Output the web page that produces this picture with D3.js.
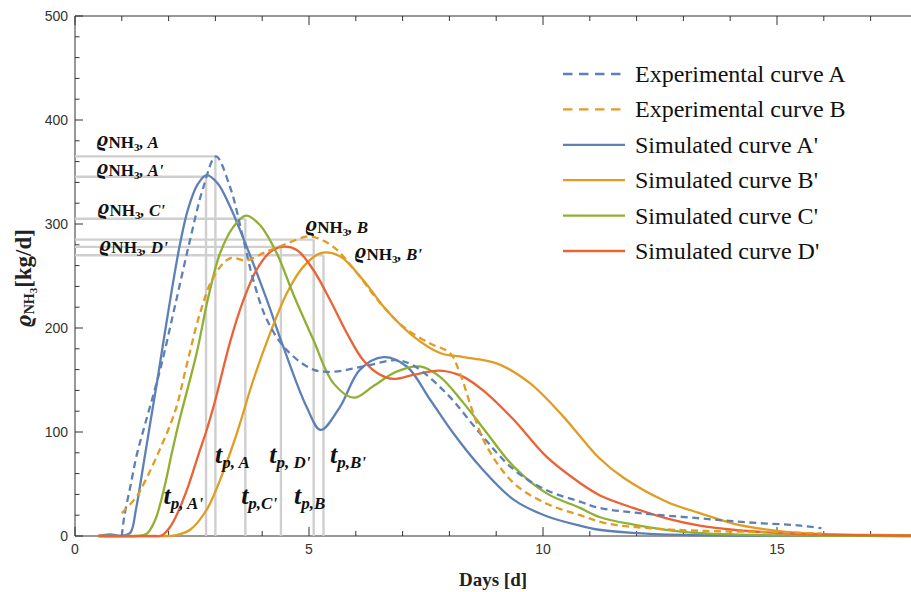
<!DOCTYPE html>
<html><head><meta charset="utf-8">
<script src="https://cdn.jsdelivr.net/npm/d3@7"></script>
<style>body{margin:0;background:#fff}</style>
</head><body>
<svg id="chart" width="911" height="592"></svg>
<script>
// ---------- data (days, kg/d) ----------
const expA_day = [1.0, 1.05, 1.18, 1.32, 1.5, 1.82, 2.14, 2.46, 2.74, 3.01, 3.31, 3.6, 3.81, 4.1, 4.52, 5.09, 5.52, 6.16, 6.87, 7.23, 7.94, 8.65, 9.37, 10.08, 10.79, 11.2, 12.07, 13.35, 14.4, 15.5, 15.95];
const expA_val = [0, 18, 47, 78, 108, 160, 222, 285, 335, 365, 336, 285, 246, 208, 179, 160, 158, 163, 169, 164, 137, 99, 64, 44, 33, 27, 22, 17, 13, 10, 7.5];

const expB_day = [1.0, 1.32, 1.5, 1.8, 2.14, 2.39, 2.67, 2.96, 3.31, 3.67, 4.02, 4.52, 5.02, 5.52, 6.02, 6.52, 7.02, 7.59, 8.01, 8.23, 8.51, 8.8, 9.37, 10.08, 10.79, 11.37, 12.3, 13.35, 14.5, 15.96];
const expB_val = [22, 38, 53, 82, 120, 165, 214, 249, 267, 265, 272, 281, 288, 278, 253, 224, 201, 185, 176, 156, 118, 86, 51, 31, 20, 12, 7.4, 5, 4, 2.5];

const simA_day = [0.5, 0.75, 1.0, 1.18, 1.3, 1.46, 1.62, 1.76, 1.99, 2.24, 2.42, 2.62, 2.81, 3.05, 3.31, 3.67, 4.1, 4.45, 4.95, 5.25, 5.66, 6.09, 6.59, 7.09, 7.59, 8.08, 8.65, 9.37, 10.08, 10.79, 11.2, 11.9, 13, 14, 16, 18];
const simA_val = [0, 1.5, 0.3, 3, 25, 68, 112, 150, 215, 280, 315, 338, 347, 339, 317, 278, 227, 182, 124, 102, 124, 160, 172, 163, 131, 99, 67, 35, 19, 10, 6, 3, 1, 0.5, 0.1, 0];

const simB_day = [0.5, 1.5, 2.0, 2.14, 2.46, 2.81, 3.1, 3.46, 3.81, 4.17, 4.52, 4.88, 5.25, 5.66, 6.16, 6.66, 7.23, 7.8, 8.3, 9.01, 9.72, 10.43, 10.79, 11.2, 11.72, 12.64, 13.35, 14.06, 15.0, 15.85, 17.6, 18];
const simB_val = [0, 0, 0, 0.5, 6, 25, 54, 99, 150, 195, 233, 259, 272, 269, 246, 217, 192, 176, 172, 166, 147, 115, 96, 75, 56, 33, 22, 12, 5, 2, 0.8, 0.5];

const simC_day = [0.5, 1.3, 1.53, 1.71, 1.9, 2.07, 2.23, 2.6, 2.85, 3.1, 3.38, 3.65, 3.95, 4.31, 4.66, 5.09, 5.52, 5.96, 6.37, 6.87, 7.37, 7.8, 8.3, 8.8, 9.37, 10.08, 10.79, 11.22, 11.93, 13.0, 14.06, 16, 18];
const simC_val = [0, 0, 2, 15, 45, 80, 111, 176, 230, 272, 297, 308, 299, 272, 233, 189, 147, 133, 144, 158, 163, 153, 128, 99, 67, 41, 27, 18, 11, 4, 1.5, 0.2, 0];

const simD_day = [0.5, 1.7, 1.85, 2.02, 2.17, 2.42, 2.65, 2.8, 3.0, 3.31, 3.6, 3.88, 4.17, 4.42, 4.74, 5.09, 5.45, 5.81, 6.16, 6.52, 6.8, 7.23, 7.8, 8.3, 8.8, 9.37, 10.08, 10.79, 11.22, 11.93, 12.64, 13.35, 14.06, 14.78, 15.85, 18];
const simD_val = [0, 0, 0.5, 8, 20, 48, 80, 100, 131, 186, 227, 256, 273, 278, 275, 256, 227, 195, 169, 155, 151, 155, 159, 153, 137, 112, 76, 51, 39, 27, 17, 10, 6, 3.5, 1.5, 0.3];

const seriesNames = ["Experimental curve A", "Experimental curve B", "Simulated curve A'", "Simulated curve B'", "Simulated curve C'", "Simulated curve D'"];

const xTickValues = [0, 5, 10, 15];
const yTickValues = [0, 100, 200, 300, 400, 500];

const peakKeys = ["A", "A'", "C'", "D'", "B", "B'"];
const peakDays = [3.0, 2.8, 3.64, 4.4, 5.1, 5.31];
const peakVals = [365, 345.5, 305, 278, 285, 270];
const tpSubs = [", A", ", A'", ",C'", ", D'", ",B", ",B'"];

// ---------- layout / style ----------
const W = 911, H = 592;
const svg = d3.select("#chart");
const x = d3.scaleLinear().domain([0, 18]).range([75, 75 + 18 * 46.8]);
const y = d3.scaleLinear().domain([0, 500]).range([536, 16]);
const colors = {blue: "#5E81B5", orange: "#E19C24", green: "#8FB032", red: "#EB6235"};
const serif = "'Liberation Serif', 'DejaVu Serif', serif";

const series = [
  {name: seriesNames[0], d: expA_day, v: expA_val, c: colors.blue, dash: true},
  {name: seriesNames[1], d: expB_day, v: expB_val, c: colors.orange, dash: true},
  {name: seriesNames[2], d: simA_day, v: simA_val, c: colors.blue, dash: false},
  {name: seriesNames[3], d: simB_day, v: simB_val, c: colors.orange, dash: false},
  {name: seriesNames[4], d: simC_day, v: simC_val, c: colors.green, dash: false},
  {name: seriesNames[5], d: simD_day, v: simD_val, c: colors.red, dash: false}
];

// ---------- axes ----------
const axisColor = "#333";
const ax = svg.append("g");
ax.append("line").attr("x1", 75).attr("x2", W).attr("y1", 536).attr("y2", 536).attr("stroke", axisColor);
ax.append("line").attr("x1", 75).attr("x2", W).attr("y1", 16).attr("y2", 16).attr("stroke", axisColor);
ax.append("line").attr("x1", 75).attr("x2", 75).attr("y1", 16).attr("y2", 536).attr("stroke", axisColor);

d3.range(0, 19, 1).forEach(t => {
  const major = t % 5 === 0;
  const len = major ? 9 : 5;
  const px = x(t);
  if (px > W) return;
  ax.append("line").attr("x1", px).attr("x2", px).attr("y1", 536).attr("y2", 536 - len).attr("stroke", axisColor);
  ax.append("line").attr("x1", px).attr("x2", px).attr("y1", 16).attr("y2", 16 + len).attr("stroke", axisColor);
});
d3.range(0, 501, 20).forEach(t => {
  const major = t % 100 === 0;
  const len = major ? 8 : 4.5;
  ax.append("line").attr("x1", 75).attr("x2", 75 + len).attr("y1", y(t)).attr("y2", y(t)).attr("stroke", axisColor);
});
ax.selectAll(".xl").data(xTickValues).enter().append("text")
  .attr("x", d => x(d)).attr("y", 554).attr("text-anchor", "middle")
  .attr("font-family", "'Liberation Sans', Arial, sans-serif").attr("font-size", 14).attr("fill", "#333")
  .text(d => d);
ax.selectAll(".yl").data(yTickValues).enter().append("text")
  .attr("x", 68).attr("y", d => y(d) + 5).attr("text-anchor", "end")
  .attr("font-family", "'Liberation Sans', Arial, sans-serif").attr("font-size", 14).attr("fill", "#333")
  .text(d => d);

// axis titles
svg.append("text").attr("x", 493).attr("y", 586).attr("text-anchor", "middle")
  .attr("font-family", serif).attr("font-weight", "bold").attr("font-size", 19).attr("fill", "#222")
  .text("Days [d]");
const yt = svg.append("text").attr("transform", "translate(31,278) rotate(-90)").attr("text-anchor", "middle")
  .attr("font-family", serif).attr("font-weight", "bold").attr("font-size", 23).attr("fill", "#222");
yt.append("tspan").attr("font-style", "italic").text("ϱ");
yt.append("tspan").attr("font-size", 14).attr("dy", 3).text("NH");
yt.append("tspan").attr("font-size", 11).attr("dy", 3).text("3");
yt.append("tspan").attr("dy", -6).text("[kg/d]");

// ---------- reference lines ----------
const ref = svg.append("g").attr("stroke", "#cfcfcf").attr("stroke-width", 2.4);
peakKeys.forEach((k, i) => {
  ref.append("line").attr("x1", 75).attr("x2", x(peakDays[i])).attr("y1", y(peakVals[i])).attr("y2", y(peakVals[i]));
  ref.append("line").attr("x1", x(peakDays[i])).attr("x2", x(peakDays[i])).attr("y1", y(0)).attr("y2", y(peakVals[i]));
});

// ---------- curves ----------
const line = d3.line().x(d => x(d[0])).y(d => y(Math.max(0, d[1]))).curve(d3.curveCatmullRom.alpha(0.5));
const order = [2, 3, 4, 5, 0, 1];
order.forEach(i => {
  const s = series[i];
  svg.append("path").datum(s.d.map((dd, j) => [dd, s.v[j]]))
    .attr("fill", "none").attr("stroke", s.c).attr("stroke-width", 2.3)
    .attr("stroke-linejoin", "round")
    .attr("stroke-dasharray", s.dash ? "7,4.5" : null)
    .attr("d", line);
});

// ---------- annotations ----------
const rhoPos = {"A": [0.46, 375], "A'": [0.46, 347.6], "C'": [0.48, 309.6], "D'": [0.52, 274], "B": [4.92, 293], "B'": [5.97, 267.3]};
peakKeys.forEach(k => {
  const p = rhoPos[k];
  const t = svg.append("text").attr("x", x(p[0])).attr("y", y(p[1]))
    .attr("font-family", serif).attr("font-weight", "bold").attr("font-size", 22).attr("fill", "#111");
  t.append("tspan").attr("font-style", "italic").text("ϱ");
  t.append("tspan").attr("font-size", 17).attr("dy", 2).text("NH");
  t.append("tspan").attr("font-size", 11).attr("dy", 3).text("3");
  t.append("tspan").attr("font-size", 17).attr("font-style", "italic").attr("dy", -3).text(", " + k);
});
const tpPos = {"A": [2.99, 70.5], "A'": [1.89, 30.5], "C'": [3.55, 30.5], "D'": [4.15, 70.5], "B": [4.68, 30.5], "B'": [5.45, 70.5]};
peakKeys.forEach((k, i) => {
  const p = tpPos[k];
  const t = svg.append("text").attr("x", x(p[0])).attr("y", y(p[1]))
    .attr("font-family", serif).attr("font-weight", "bold").attr("font-style", "italic").attr("font-size", 26).attr("fill", "#111");
  t.append("tspan").text("t");
  t.append("tspan").attr("font-size", 17).attr("dy", 5).text("p" + tpSubs[i]);
});

// ---------- legend ----------
const lg = svg.append("g");
series.forEach((s, i) => {
  const cy = 74 + i * 35.4;
  lg.append("line").attr("x1", 563).attr("x2", s.dash ? 623 : 625).attr("y1", cy).attr("y2", cy)
    .attr("stroke", s.c).attr("stroke-width", 2.3).attr("stroke-dasharray", s.dash ? "9.5,6.5" : null);
  lg.append("text").attr("x", 635).attr("y", cy + 8)
    .attr("font-family", serif).attr("font-size", 24).attr("fill", "#111").text(s.name);
});
</script>
</body></html>
